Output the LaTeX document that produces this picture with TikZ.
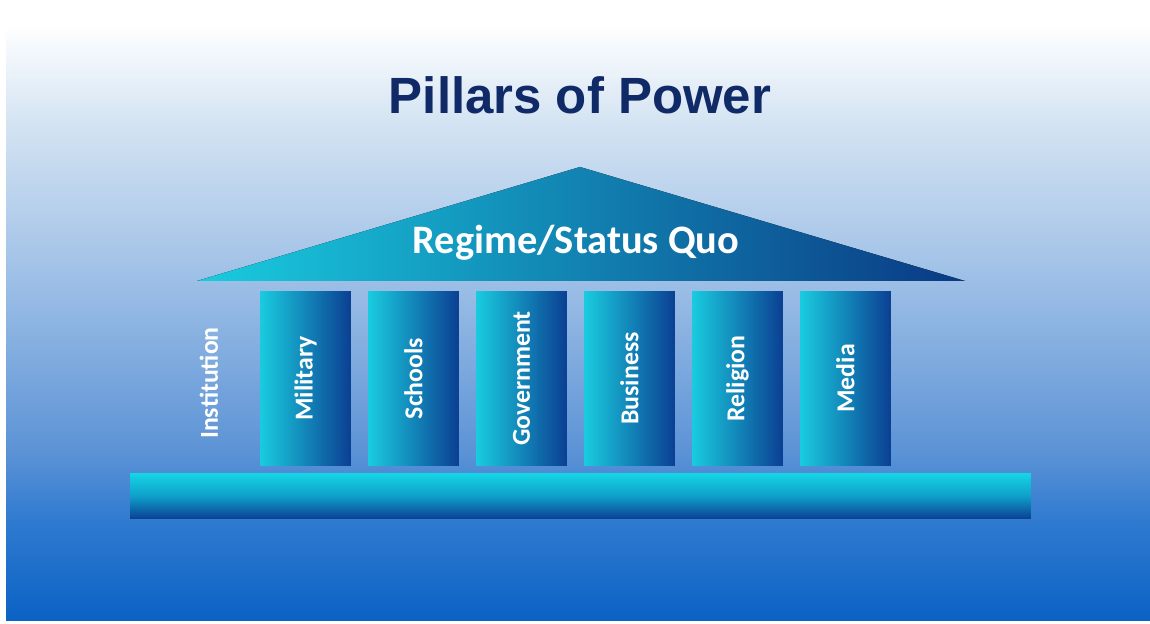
\documentclass[tikz,border=0pt]{standalone}
\usepackage{fontspec}
\setmainfont{Carlito}
\newfontfamily\titlefont{Liberation Sans}
\usetikzlibrary{positioning}

\definecolor{titlenavy}{HTML}{0F2A66}
\definecolor{bgA}{HTML}{D5E4F3}
\definecolor{bgB}{HTML}{9DBFE6}
\definecolor{bgC}{HTML}{5C93D6}
\definecolor{bgD}{HTML}{2F7AD0}
\definecolor{bgE}{HTML}{0A62C4}
\definecolor{pilcyan}{HTML}{19CCDF}
\definecolor{pilnavy}{HTML}{0B3F92}
\definecolor{basemid}{HTML}{0F9FC9}

% sky behind the temple
\pgfdeclareverticalshading{skyshade}{100bp}{color(0bp)=(bgE); color(25bp)=(bgE);
  color(33bp)=(bgD); color(38.7bp)=(bgC); color(52.4bp)=(bgB);
  color(65.3bp)=(bgA); color(73bp)=(white); color(100bp)=(white)}

\tikzset{
  pillar/.style={rectangle,inner sep=0pt,minimum width=1.82cm,minimum height=3.5cm,
    left color=pilcyan,right color=pilnavy,text=white,
    font=\bfseries\fontsize{14.7}{16}\selectfont},
  plinth/.style={rectangle,inner sep=0pt,minimum width=18.02cm,minimum height=0.92cm,
    top color=pilcyan!80!cyan,bottom color=pilnavy,middle color=basemid},
}

\begin{document}
\begin{tikzpicture}[x=0.02cm,y=-0.02cm]
  \useasboundingbox (0,0) rectangle (1150,624);
  \fill[white] (0,0) rectangle (1150,624);
  \shade[shading=skyshade] (6,0) rectangle (1150,621);

  \node (title) [anchor=base,text=titlenavy,font=\titlefont\bfseries\fontsize{29}{32}\selectfont]
    at (580,114) {Pillars of Power};

  % roof
  \fill[left color=pilcyan,right color=pilnavy!90!black] (197,281) -- (580,167) -- (965,281) -- cycle;
  \node (regime) [anchor=base,text=white,font=\bfseries\fontsize{23}{26}\selectfont]
    at (576,254) {Regime/Status Quo};

  % pillars
  \foreach \name/\txt [count=\i from 0] in {military/Military,schools/Schools,
      government/Government,business/Business,religion/Religion,media/Media}
    \node (\name) [pillar] at ({305.5+108*\i},378.5) {\rotatebox{90}{\txt}};

  \node (institution) [text=white,font=\bfseries\fontsize{14.7}{16}\selectfont]
    at (209,383) {\rotatebox{90}{Institution}};

  % base
  \node (base) [plinth] at (580.5,496) {};
\end{tikzpicture}
\end{document}
